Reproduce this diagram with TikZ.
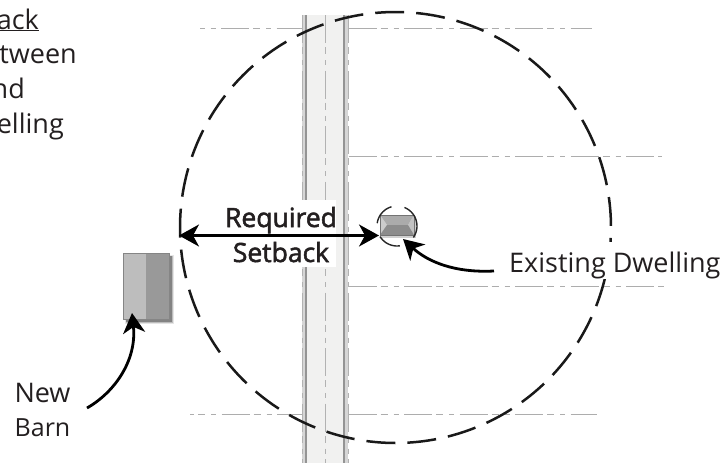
\documentclass[tikz,border=0pt]{standalone}
\usepackage{fontspec}
\setmainfont{Open Sans}
\newfontfamily\semifont[FakeBold=2]{Open Sans}
\usetikzlibrary{arrows.meta,calc}
\definecolor{txt}{HTML}{231F20}
\definecolor{roadfill}{HTML}{F1F1F0}
\tikzset{
  label text/.style={text=txt,font=\fontsize{27}{29}\selectfont,inner sep=0pt,anchor=base},
  bold text/.style={text=txt,font=\fontsize{26.5}{29}\semifont,inner sep=0pt,anchor=base},
  side text/.style={text=txt,font=\fontsize{27}{29}\selectfont,inner sep=0pt,anchor=base east},
  lot line/.style={draw=black!32,line width=1pt,dash pattern=on 28pt off 4pt on 7pt off 6pt on 5pt off 5.5pt},
  road edge/.style={draw=black!42,line width=1.1pt},
  road dash/.style={draw=black!30,line width=0.9pt,dash pattern=on 28pt off 4pt on 7pt off 6pt on 5pt off 5.5pt},
  setback circle/.style={draw=black!90,line width=2.5pt,line cap=butt},
  small circle/.style={draw=black!85,line width=1.4pt},
  pointer/.style={draw=black,line width=2.8pt,-{Stealth[length=20pt,width=22pt,inset=6pt]}},
  both pointer/.style={draw=black,line width=2.2pt,{Stealth[length=20pt,width=22pt,inset=6pt]}-{Stealth[length=20pt,width=22pt,inset=6pt]}},
}
\begin{document}
\begin{tikzpicture}[x=1pt,y=-1pt]
\useasboundingbox (0,0) rectangle (723,463);
\begin{scope}
\clip (0,0) rectangle (723,463);
% road
\fill[roadfill] (302,15) rectangle (348,463);
\fill[black!16] (302,15) rectangle (306,463);
\fill[black!16] (344,15) rectangle (348,463);
\draw[road edge] (306,15) -- (306,463);
\draw[road edge] (344,15) -- (344,463);
\draw[road dash] (302,15) -- (302,463);
\draw[road dash] (348.5,15) -- (348.5,463);
\draw[road dash] (325,15) -- (325,463);
% lot lines
\draw[lot line,dash phase=34.5pt] (200,28.5) -- (302,28.5);
\draw[lot line] (348.7,28.5) -- (592,28.5);
\draw[lot line] (348.7,156.5) -- (662,156.5);
\draw[lot line] (348.7,286.7) -- (664,286.7);
\draw[lot line,dash phase=24pt] (190,414.3) -- (302,414.3);
\draw[lot line] (348.7,414.3) -- (597,414.3);
% setback circle
\foreach \i in {0,...,32}{
  \pgfmathsetmacro{\aS}{95.4-10.909*\i}
  \pgfmathsetmacro{\aE}{\aS-7.7}
  \draw[setback circle] plot[domain=\aS:\aE,samples=9,smooth,variable=\t] ({395.5+215.5*cos(\t)},{227.5-215.5*sin(\t)});
}
% white panels behind the labels
\fill[white] (226,200) rectangle (336,267);
\fill[white] (505,242) rectangle (723,279);
% barn
\fill[black,opacity=.10] (125,255) rectangle (174,324);
\fill[black,opacity=.18] (126,256) rectangle (173,323);
\fill[black,opacity=.30] (126,256) rectangle (172,322);
\fill[black!26] (123,253) rectangle (146,319);
\fill[black!40] (146,253) rectangle (169,319);
\draw[black!48,line width=.7pt] (123,253) rectangle (169,319);
% dwelling
\fill[black,opacity=.18] (381,216) rectangle (416,238);
\fill[black!33] (380,215) -- (414,215) -- (408,225) -- (387,225) -- cycle;
\fill[black!20] (380,215) -- (387,225) -- (380,235) -- cycle;
\fill[black!24] (414,215) -- (408,225) -- (414,235) -- cycle;
\fill[black!45] (380,235) -- (414,235) -- (408,225) -- (387,225) -- cycle;
\draw[black!55,line width=.5pt] (380,215) rectangle (414,235);
% small circle
\draw[small circle] plot[domain=106:172,samples=12,smooth,variable=\t] ({397+20*cos(\t)},{226-20*sin(\t)});
\draw[small circle] plot[domain=68:-35,samples=14,smooth,variable=\t] ({397+20*cos(\t)},{226-20*sin(\t)});
\draw[small circle] plot[domain=212:278,samples=12,smooth,variable=\t] ({397+20*cos(\t)},{226-20*sin(\t)});
% labels
\node[bold text] (req) at (281,227) {Required};
\node[bold text] (set) at (281,262) {Setback};
\node[label text,anchor=base west] (ex) at (509,272) {Existing Dwelling};
\node[label text] (new) at (42.5,402) {New};
\node[label text,font=\fontsize{25}{29}\selectfont] (barn) at (42.5,436) {Barn};
% connectors
\coordinate (leftpt) at (179,235.5);
\coordinate (dwl) at (379,235.5);
\coordinate (dwb) at (403,239);
\coordinate (exstart) at (494,271);
\coordinate (barnstart) at (87,408);
\coordinate (barnpt) at (132,313);
\draw[both pointer] (leftpt) -- (dwl);
\draw[pointer] (exstart) .. controls (455,273) and (428,262) .. (dwb);
\draw[pointer] (barnstart) .. controls (115,392) and (137,360) .. (barnpt);
% cropped side note
\node[side text] (n1) at (39,29) {\underline{ack}};
\node[side text] (n2) at (77,63) {etween};
\node[side text] (n3) at (25,98) {nd};
\node[side text] (n4) at (64,133) {elling};
\end{scope}
\end{tikzpicture}
\end{document}
